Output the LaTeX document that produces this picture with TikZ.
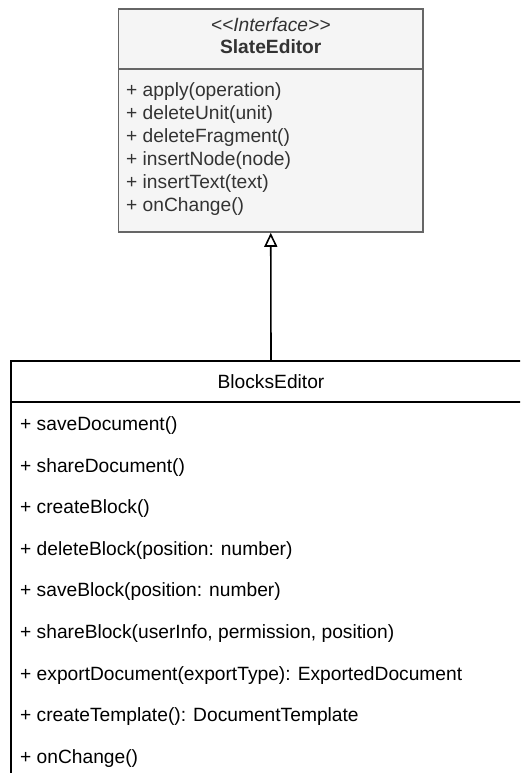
\documentclass[tikz,border=0pt]{standalone}
\usepackage{fontspec}
\setmainfont{Liberation Sans}
\usetikzlibrary{arrows.meta}
\definecolor{ifill}{HTML}{F5F5F5}
\definecolor{iline}{HTML}{666666}
\definecolor{itext}{HTML}{333333}
\newcommand\umlsize{\fontsize{19.2pt}{23pt}\selectfont}
\tikzset{
  classbox/.style={draw=black, fill=white, line width=1.6pt, inner sep=0pt},
  ifacebox/.style={draw=iline, fill=ifill, line width=1.6pt, inner sep=0pt},
  member/.style={anchor=base west, inner sep=0pt, font=\umlsize},
  imember/.style={member, text=itext},
  title/.style={anchor=base, inner sep=0pt, font=\umlsize},
  realizes/.style={line width=1.6pt, -{Triangle[open, length=14pt, width=13pt, fill=white]}}
}
\begin{document}
\begin{tikzpicture}[x=1pt, y=-1pt]
\useasboundingbox (0,0) rectangle (520,773);
\clip (0,0) rectangle (520,773);

% interface SlateEditor
\node[ifacebox, minimum width=304.5pt, minimum height=223pt] (slate) at (270.75,120.5) {};
\draw[iline, line width=1.6pt] (118.5,69) -- (423,69);
\node[title, text=itext, font=\umlsize\itshape] (stereo) at (270.75,31.5) {<\kern0pt<Interface>\kern0pt>};
\node[title, text=itext, font=\umlsize\bfseries] (sname) at (270.75,53.5) {SlateEditor};
\node[imember] (s1) at (126, 96.5) {+ apply(operation)};
\node[imember] (s2) at (126,119.5) {+ deleteUnit(unit)};
\node[imember] (s3) at (126,142.5) {+ deleteFragment()};
\node[imember] (s4) at (126,165.5) {+ insertNode(node)};
\node[imember] (s5) at (126,188.5) {+ insertText(text)};
\node[imember] (s6) at (126,211.5) {+ onChange()};

% class BlocksEditor
\node[classbox, minimum width=520pt, minimum height=440pt] (blocks) at (271,581) {};
\draw[line width=1.6pt] (11,402) -- (531,402);
\node[title] (bname) at (271,388.5) {BlocksEditor};
\node[member] (b1) at (20,430.5) {+ saveDocument()};
\node[member] (b2) at (20,472.1) {+ shareDocument()};
\node[member] (b3) at (20,513.7) {+ createBlock()};
\node[member] (b4) at (20,555.3) {+ deleteBlock(position: number)};
\node[member] (b5) at (20,596.9) {+ saveBlock(position: number)};
\node[member] (b6) at (20,638.5) {+ shareBlock(userInfo, permission, position)};
\node[member] (b7) at (20,680.1) {+ exportDocument(exportType): ExportedDocument};
\node[member] (b8) at (20,721.7) {+ createTemplate(): DocumentTemplate};
\node[member] (b9) at (20,763.3) {+ onChange()};

% realization
\draw[realizes] (blocks.north) -- (slate.south);
\end{tikzpicture}
\end{document}
